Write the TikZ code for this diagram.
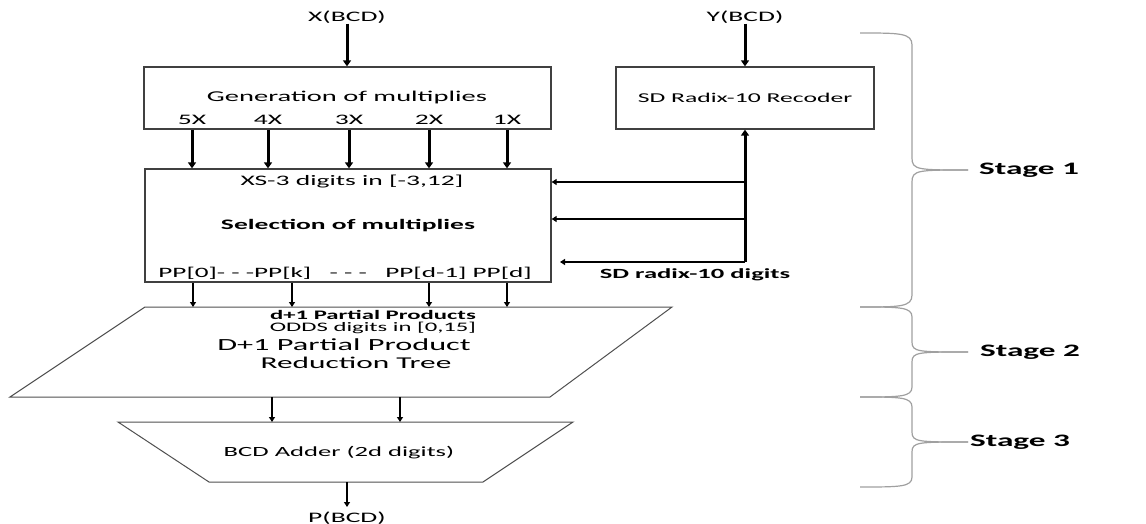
\documentclass[tikz,border=0pt]{standalone}
\usepackage{fontspec}
\setmainfont{Carlito}[FakeStretch=1.9]
\usetikzlibrary{arrows.meta}
\definecolor{boxc}{HTML}{404040}
\definecolor{shapec}{HTML}{505050}
\definecolor{bracec}{HTML}{A0A0A0}
\newcommand\myfs[1]{\fontsize{#1}{#1}\selectfont}
\begin{document}
\begin{tikzpicture}[x=1pt,y=-1pt,
  box/.style={draw=boxc, line width=1.3pt, inner sep=0pt},
  thk/.style={line width=3pt, -{Triangle[length=6pt,width=8pt]}},
  thn/.style={line width=1.7pt, -{Triangle[length=5pt,width=6pt]}},
  shp/.style={draw=shapec, line width=1pt},
  brc/.style={draw=bracec, line width=1.2pt},
  txt/.style={inner sep=0pt, font=\myfs{14.5}},
  stg/.style={inner sep=0pt, font=\myfs{17.5}\bfseries}]
\fill[white] (0,0) rectangle (1146,524);
\useasboundingbox (0,0) rectangle (1146,524);

% inputs and top boxes
\node[txt] (x) at (347,17) {X(BCD)};
\node[box, minimum width=407pt, minimum height=62pt] (gen) at (347.5,98) {};
\node[txt, font=\myfs{15}] (gent) at (347,98) {Generation of multiplies};
\node[txt] (m5) at (192,120) {5X};
\node[txt] (m4) at (268,120) {4X};
\node[txt] (m3) at (349,120) {3X};
\node[txt] (m2) at (429,120) {2X};
\node[txt] (m1) at (507,120) {1X};
\draw[thk] (x) -- (x |- gen.north);

\node[box, minimum width=406pt, minimum height=113pt] (sel) at (348,225.5) {};
\node[txt] (xs) at (352,182) {XS-3 digits in [-3,12]};
\node[txt, font=\myfs{14.5}\bfseries] (selt) at (348,226) {Selection of multiplies};
\node[txt, font=\myfs{14.3}] (pp) at (345,273) {PP[0]- - -PP[k] \ \ - - - \ \ PP[d-1] PP[d]};

\foreach \m in {m5,m4,m3,m2,m1}
  \draw[thk] (\m |- gen.south) -- (\m |- sel.north);

\node[txt] (y) at (745,17) {Y(BCD)};
\node[box, minimum width=258pt, minimum height=62pt, font=\myfs{13.5}] (rec) at (745,98) {SD Radix-10 Recoder};
\draw[thk] (y) -- (rec.north);

\coordinate (j) at (745,262);
\coordinate (jend) at (560,262);
\coordinate (h1) at (745,182);
\coordinate (h2) at (745,219);
\draw[thk] (j) -- (rec.south);
\draw[thn] (h1) -- (h1 -| sel.east);
\draw[thn] (h2) -- (h2 -| sel.east);
\draw[thn] (j) -- (jend);
\node[txt, font=\myfs{14}\bfseries] (sdd) at (695,275) {SD radix-10 digits};

% reduction tree
\coordinate (t1a) at (145,307);
\coordinate (t1b) at (672,307);
\coordinate (t1c) at (550,397);
\coordinate (t1d) at (10,397);
\draw[shp] (t1a) -- (t1b) -- (t1c) -- (t1d) -- cycle;
\node[txt, font=\myfs{13}\bfseries] (dp) at (373,315) {d+1 Partial Products};
\node[txt, font=\myfs{13}] (odds) at (373,328) {ODDS digits in [0,15]};
\node[txt, font=\myfs{17}] (tr1) at (344,345) {D+1 Partial Product};
\node[txt, font=\myfs{16.5}] (tr2) at (356,363) {Reduction Tree};

\foreach \i/\xx in {0/193,1/292,2/429,3/507}{
  \coordinate (q\i) at (\xx,307);
  \draw[thn] (q\i |- sel.south) -- (q\i);
}

% adder
\coordinate (t2a) at (118,422);
\coordinate (t2b) at (573,422);
\coordinate (t2c) at (483,482);
\coordinate (t2d) at (209,482);
\draw[shp] (t2a) -- (t2b) -- (t2c) -- (t2d) -- cycle;
\node[txt, font=\myfs{14}] (add) at (339,453) {BCD Adder (2d digits)};

\foreach \i/\xx in {1/272,2/400}{
  \coordinate (r\i) at (\xx,422);
  \draw[thn] (r\i |- t1c) -- (r\i);
}
\coordinate (out) at (347,482);
\node[txt] (p) at (347,518) {P(BCD)};
\draw[thn] (out) -- (347,507);

% braces
\draw[brc] (860,33) .. controls (900,33) and (912,33) .. (912,45) -- (912,158)
  .. controls (912,170) and (918,170) .. (968,170);
\draw[brc] (968,170) .. controls (918,170) and (912,170) .. (912,182) -- (912,295)
  .. controls (912,307) and (900,307) .. (860,307);
\draw[brc] (860,307) .. controls (900,307) and (912,307) .. (912,317) -- (912,342)
  .. controls (912,352) and (918,352) .. (968,352);
\draw[brc] (968,352) .. controls (918,352) and (912,352) .. (912,362) -- (912,387)
  .. controls (912,397) and (900,397) .. (860,397);
\draw[brc] (860,397) .. controls (900,397) and (912,397) .. (912,407) -- (912,432)
  .. controls (912,442) and (918,442) .. (968,442);
\draw[brc] (968,442) .. controls (918,442) and (912,442) .. (912,452) -- (912,477)
  .. controls (912,487) and (900,487) .. (860,487);
\node[stg] (s1) at (1029,170) {Stage 1};
\node[stg] (s2) at (1030,352) {Stage 2};
\node[stg] (s3) at (1020,442) {Stage 3};
\end{tikzpicture}
\end{document}
